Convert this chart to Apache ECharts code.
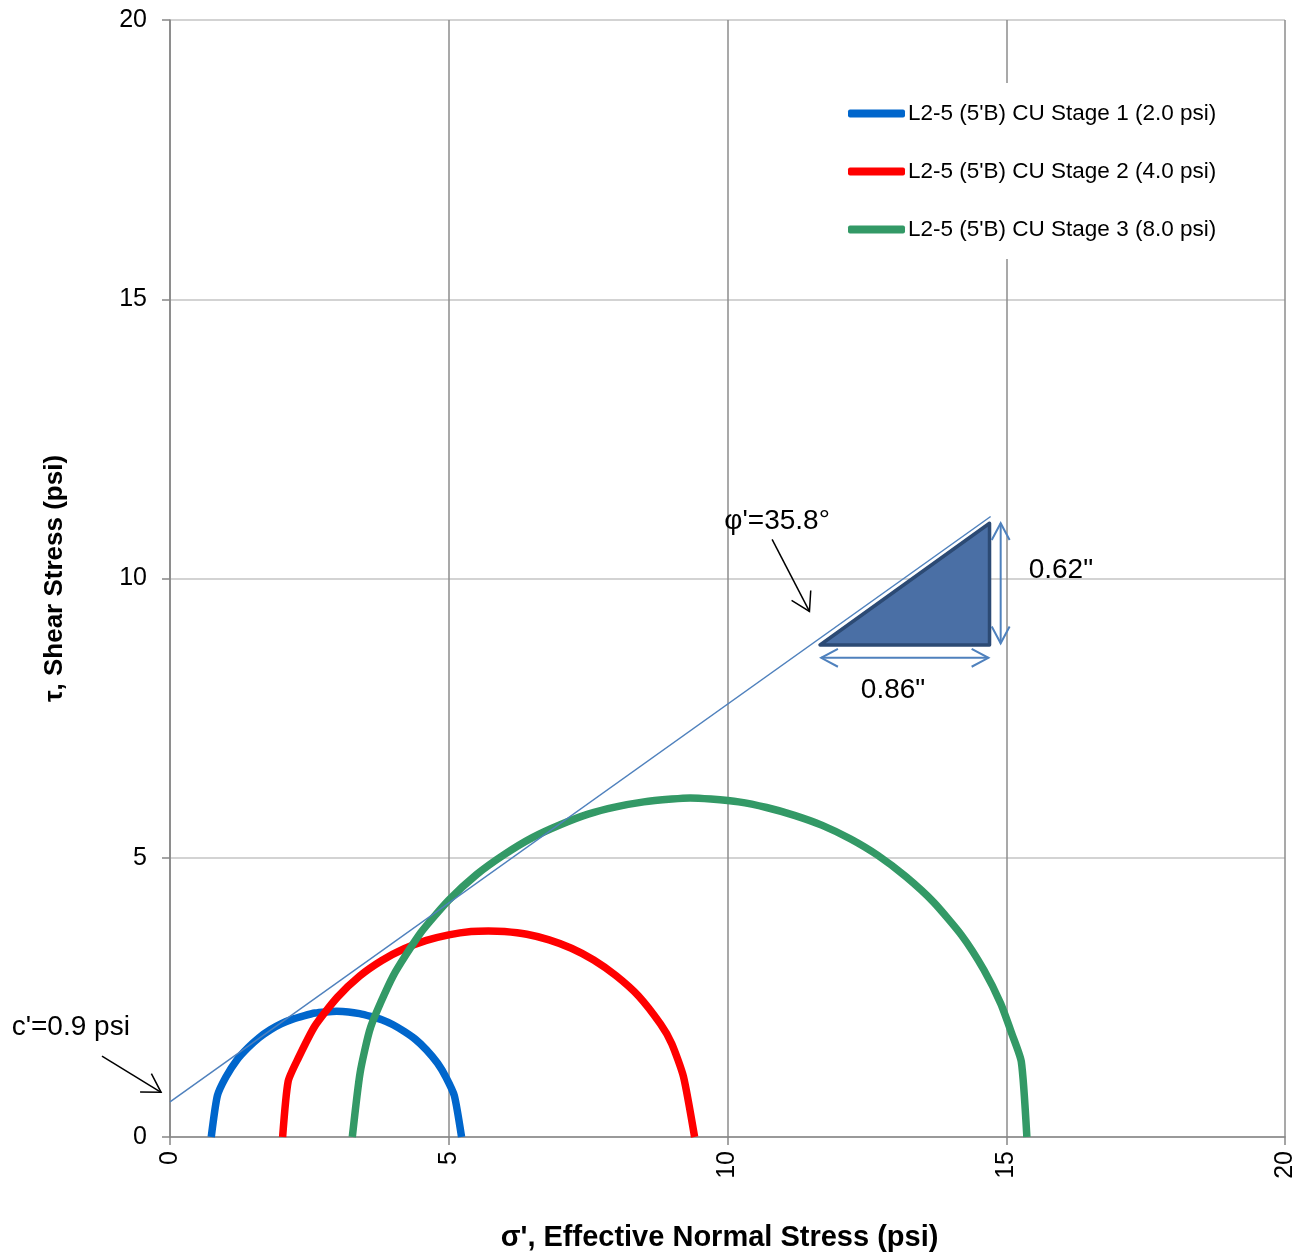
<!DOCTYPE html>
<html>
<head>
<meta charset="utf-8">
<title>Mohr Circles</title>
<script src="https://cdn.jsdelivr.net/npm/echarts@6/dist/echarts.min.js"></script>
<style>
  html, body { margin: 0; padding: 0; background: #fff; }
  #main { width: 1299px; height: 1254px; }
</style>
</head>
<body>
<div id="main"></div>
<script>
// stage names
var stageNames = [
  "L2-5 (5'B) CU Stage 1 (2.0 psi)",
  "L2-5 (5'B) CU Stage 2 (4.0 psi)",
  "L2-5 (5'B) CU Stage 3 (8.0 psi)"
];

// [sigma', tau]
var stage1 = [[0.74,0],[0.85,0.74],[1.0,1.07],[1.2,1.38],[1.4,1.60],[1.6,1.78],[1.8,1.92],[2.0,2.03],[2.2,2.11],
  [2.4,2.17],[2.6,2.22],[2.8,2.24],[2.99,2.25],[3.2,2.24],[3.4,2.21],[3.6,2.16],[3.8,2.10],[4.0,2.01],
  [4.2,1.89],[4.4,1.75],[4.6,1.56],[4.8,1.32],[4.95,1.07],[5.10,0.74],[5.23,0]];
var stage2 = [[2.02,0],[2.12,1.0],[2.3,1.41],[2.6,1.99],[3.0,2.50],[3.4,2.88],[3.8,3.16],[4.2,3.37],[4.6,3.52],
  [5.0,3.62],[5.4,3.68],[5.71,3.69],[6.0,3.68],[6.4,3.63],[6.8,3.53],[7.2,3.38],[7.6,3.17],[8.0,2.89],
  [8.4,2.53],[8.8,2.02],[9.0,1.67],[9.21,1.08],[9.41,0]];
var stage3 = [[3.27,0],[3.41,1.15],[3.6,1.97],[4.0,2.88],[4.5,3.66],[5.0,4.24],[5.5,4.70],[6.0,5.06],[6.5,5.36],
  [7.0,5.59],[7.5,5.78],[8.0,5.91],[8.5,6.00],[9.0,6.05],[9.33,6.07],[9.7,6.05],[10.2,6.00],[10.7,5.90],
  [11.2,5.76],[11.7,5.58],[12.2,5.34],[12.7,5.04],[13.2,4.66],[13.7,4.20],[14.2,3.61],[14.6,2.99],
  [14.9,2.39],[15.1,1.85],[15.27,1.35],[15.37,0]];

// failure envelope and slope triangle
var envelope = [[0, 0.63], [14.72, 11.11]];
var triangle = [[11.66, 8.81], [14.70, 8.81], [14.70, 10.99]];
var dimRun = [[11.68, 8.58], [14.68, 8.58]];
var dimRise = [[14.90, 10.99], [14.90, 8.84]];
var phiArrow = [[10.80, 10.70], [11.47, 9.41]];
var cArrow = [[-1.22, 1.45], [-0.16, 0.80]];
var noteTexts = ["φ'=35.8°", '0.62"', '0.86"', "c'=0.9 psi"];
var notePos = [[10.89, 11.02], [15.98, 10.15], [12.97, 7.99], [-1.78, 1.97]];

var axisTicks = { min: 0, max: 20, interval: 5 };

var chart = echarts.init(document.getElementById('main'));

function head(tip, from, len, spread) {
  var a = Math.atan2(from[1] - tip[1], from[0] - tip[0]);
  return [
    [tip[0] + len * Math.cos(a + spread), tip[1] + len * Math.sin(a + spread)],
    tip,
    [tip[0] + len * Math.cos(a - spread), tip[1] + len * Math.sin(a - spread)]
  ];
}

function arrow(p, q, color, both, len, spread, w) {
  var st = { stroke: color, lineWidth: w, fill: 'none' };
  var out = [
    { type: 'line', shape: { x1: p[0], y1: p[1], x2: q[0], y2: q[1] }, style: st },
    { type: 'polyline', shape: { points: head(q, p, len, spread) }, style: st }
  ];
  if (both) out.push({ type: 'polyline', shape: { points: head(p, q, len, spread) }, style: st });
  return out;
}

var option = {
  animation: false,
  backgroundColor: '#fff',
  textStyle: { fontFamily: 'Liberation Sans, Arial, sans-serif' },
  grid: { left: 170, right: 14, top: 20, bottom: 117, outerBoundsMode: 'none', containLabel: false },
  legend: {
    data: stageNames,
    orient: 'vertical',
    left: 838,
    top: 83,
    padding: [19, 10, 18, 10],
    itemGap: 35,
    itemWidth: 57,
    itemHeight: 8,
    icon: 'roundRect',
    selectedMode: false,
    backgroundColor: '#fff',
    textStyle: { fontSize: 22.5, lineHeight: 22, color: '#000', padding: [0, 0, 0, -2] }
  },
  xAxis: {
    type: 'value',
    min: axisTicks.min, max: axisTicks.max, interval: axisTicks.interval,
    name: "σ', Effective Normal Stress (psi)",
    nameLocation: 'middle',
    nameGap: 86,
    nameTextStyle: { fontSize: 29, fontWeight: 'bold', color: '#000', padding: [0, 16, 0, 0] },
    axisLine: { onZero: false, lineStyle: { color: '#868686', width: 1.5 } },
    axisTick: { show: true, inside: false, length: 8, lineStyle: { color: '#868686', width: 1.5 } },
    axisLabel: { rotate: 90, margin: 14, fontSize: 25, color: '#000' },
    splitLine: { show: true, lineStyle: { color: '#8c8c8c', width: 1.5 } }
  },
  yAxis: {
    type: 'value',
    min: axisTicks.min, max: axisTicks.max, interval: axisTicks.interval,
    name: 'τ, Shear Stress (psi)',
    nameLocation: 'middle',
    nameGap: 102,
    nameTextStyle: { fontSize: 26, fontWeight: 'bold', color: '#000' },
    axisLine: { onZero: false, lineStyle: { color: '#868686', width: 1.5 } },
    axisTick: { show: true, inside: false, length: 8, lineStyle: { color: '#868686', width: 1.5 } },
    axisLabel: { margin: 23, fontSize: 25, color: '#000' },
    splitLine: { show: true, lineStyle: { color: '#c4c4c4', width: 1.5 } }
  },
  series: [
    {
      name: stageNames[0], type: 'line', data: stage1, showSymbol: false, z: 2, smooth: 0.2,
      itemStyle: { color: '#0066cc' }, lineStyle: { color: '#0066cc', width: 7.5 }
    },
    {
      name: stageNames[1], type: 'line', data: stage2, showSymbol: false, z: 2, smooth: 0.2,
      itemStyle: { color: '#ff0000' }, lineStyle: { color: '#ff0000', width: 7.5 }
    },
    {
      name: stageNames[2], type: 'line', data: stage3, showSymbol: false, z: 2, smooth: 0.2,
      itemStyle: { color: '#339966' }, lineStyle: { color: '#339966', width: 7.5 }
    },
    {
      type: 'custom', z: 3, silent: true, clip: false,
      data: [[0, 0]],
      renderItem: function (params, api) {
        var pts = triangle.map(function (p) { return api.coord(p); });
        return {
          type: 'polygon',
          shape: { points: pts },
          style: { fill: '#4a6fa5', stroke: '#2c4a74', lineWidth: 3.5, lineJoin: 'round' }
        };
      }
    },
    {
      name: 'envelope', type: 'line', data: envelope, showSymbol: false, z: 4,
      lineStyle: { color: '#4f81bd', width: 1.5 }
    },
    {
      type: 'custom', z: 5, silent: true, clip: false,
      data: [[0, 0]],
      renderItem: function (params, api) {
        var kids = [];
        kids = kids.concat(arrow(api.coord(dimRun[0]), api.coord(dimRun[1]), '#4f81bd', true, 19, 0.49, 2));
        kids = kids.concat(arrow(api.coord(dimRise[0]), api.coord(dimRise[1]), '#4f81bd', true, 19, 0.49, 2));
        kids = kids.concat(arrow(api.coord(phiArrow[0]), api.coord(phiArrow[1]), '#000', false, 21, 0.54, 1.5));
        kids = kids.concat(arrow(api.coord(cArrow[0]), api.coord(cArrow[1]), '#000', false, 21, 0.54, 1.5));
        for (var i = 0; i < noteTexts.length; i++) {
          var c = api.coord(notePos[i]);
          kids.push({
            type: 'text',
            style: {
              text: noteTexts[i], x: c[0], y: c[1],
              fill: '#000', fontSize: 28, fontFamily: 'Liberation Sans, Arial, sans-serif',
              align: 'center', verticalAlign: 'middle'
            }
          });
        }
        return { type: 'group', children: kids };
      }
    }
  ]
};

chart.setOption(option);
</script>
</body>
</html>
